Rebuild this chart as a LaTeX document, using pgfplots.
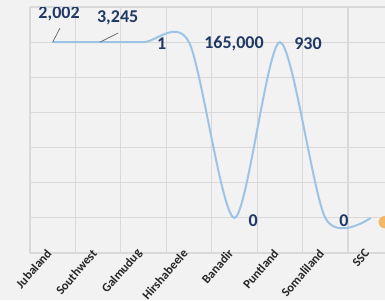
\documentclass[border=0pt]{standalone}
\usepackage{fontspec}
\setmainfont{Carlito}
\usepackage{pgfplots}
\pgfplotsset{compat=1.18}
\definecolor{bg}{HTML}{F2F2F2}
\definecolor{gridc}{HTML}{D9D9D9}
\definecolor{linec}{HTML}{9DC3E6}
\definecolor{lbl}{HTML}{1F3864}
\definecolor{orng}{HTML}{F2B866}
\pgfdeclarelayer{bglayer}
\pgfsetlayers{bglayer,main}
\begin{document}
\begin{tikzpicture}
\begin{axis}[scale only axis,
  width=355pt, height=246pt,
  xmin=-0.5, xmax=7.314, ymin=0, ymax=7,
  axis line style={draw=none}, major tick length=0pt,
  xtick={0,...,7},
  xticklabels={Jubaland,Southwest,Galmudug,Hirshabeele,Banadir,Puntland,Somaliland,SSC},
  xticklabel style={rotate=49, anchor=east, inner sep=0pt, yshift=4pt, xshift=-1pt,
    font=\bfseries\fontsize{12.5}{12.5}\selectfont, text=black!85},
  extra x ticks={-0.5,0.5,1.5,2.5,3.5,4.5,5.5,6.5},
  extra x tick labels={},
  extra x tick style={xmajorgrids=true},
  ytick={0,...,7}, yticklabels={}, ymajorgrids=true,
  major grid style={draw=gridc, line width=1.2pt},
  clip=true,
]
\coordinate (pgSW) at (axis cs:-1.16,-1.3375);
\coordinate (pgNE) at (axis cs:7.314,7.2);
\addplot[linec, line width=2pt, smooth, tension=0.48, no marks]
  coordinates {(0,6)(1,6)(2,6)(3,6)(4,1)(5,6)(6,1)(7,1)};
\addplot[only marks, mark=*, mark size=6pt, mark options={fill=orng, draw=orng}]
  coordinates {(7.31,0.88)};
\draw[black!60, line width=0.7pt] (axis cs:0,6) -- (axis cs:0.16,6.4);
\draw[black!60, line width=0.7pt] (axis cs:1.04,6) -- (axis cs:1.44,6.26);
\begin{scope}[every node/.style={font=\bfseries\fontsize{18}{18}\selectfont, text=lbl, inner sep=0pt}]
\node at (axis cs:0.14,6.8) {2,002};
\node at (axis cs:1.43,6.69) {3,245};
\node at (axis cs:2.40,5.95) {1};
\node at (axis cs:3.99,5.95) {165,000};
\node at (axis cs:5.62,5.95) {930};
\node at (axis cs:4.41,0.91) {0};
\node at (axis cs:6.41,0.91) {0};
\end{scope}
\end{axis}
\begin{pgfonlayer}{bglayer}
\fill[bg] (pgSW) rectangle (pgNE);
\end{pgfonlayer}
\pgfresetboundingbox
\useasboundingbox (pgSW) rectangle (pgNE);
\end{tikzpicture}
\end{document}
